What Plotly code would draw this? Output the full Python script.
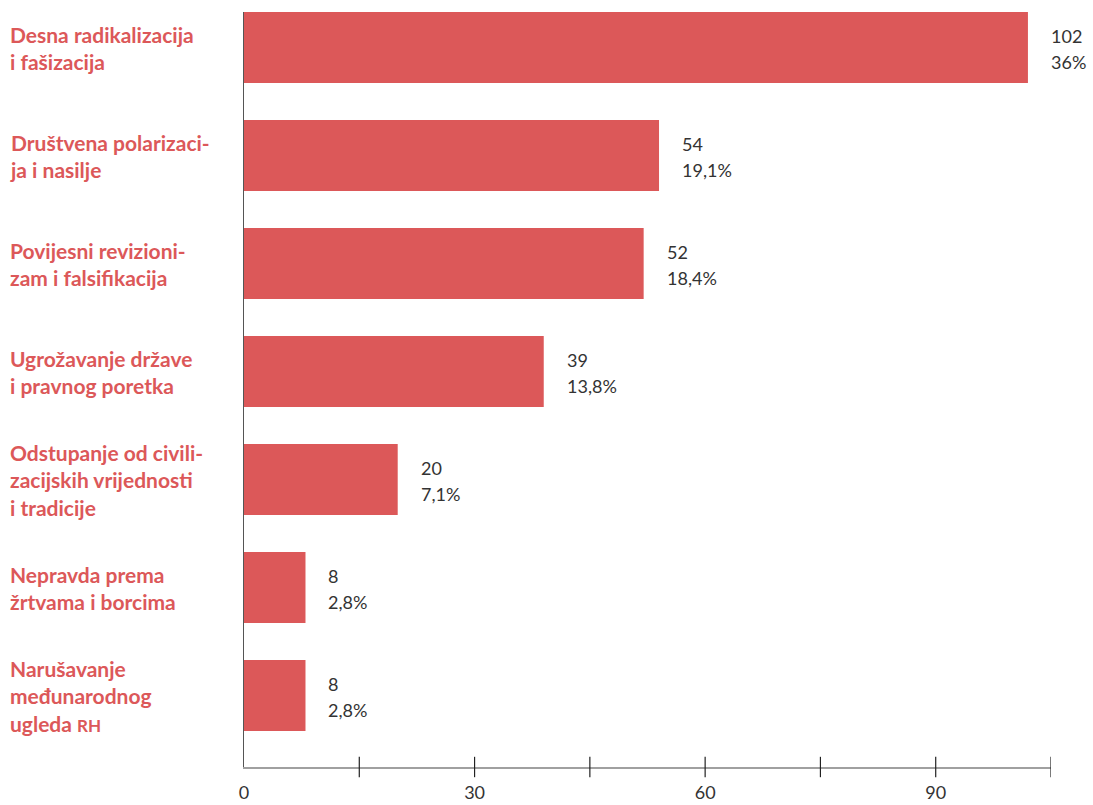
import plotly.graph_objects as go

categories = [
    "Desna radikalizacija<br>i fašizacija",
    "Društvena polarizaci-<br>ja i nasilje",
    "Povijesni revizioni-<br>zam i falsifikacija",
    "Ugrožavanje države<br>i pravnog poretka",
    "Odstupanje od civili-<br>zacijskih vrijednosti<br>i tradicije",
    "Nepravda prema<br>žrtvama i borcima",
    "Narušavanje<br>međunarodnog<br>ugleda <span style='font-size:17px'>RH</span>",
]
counts = [102, 54, 52, 39, 20, 8, 8]
shares = ["36%", "19,1%", "18,4%", "13,8%", "7,1%", "2,8%", "2,8%"]
tick_marks = [15, 30, 45, 60, 75, 90, 105]
tick_labels = [0, 30, 60, 90]

BAR = "#dc5859"
LABEL_RED = "#dc5859"
TEXT = "#333333"

pos = list(range(len(categories)))

fig = go.Figure(
    go.Bar(
        x=counts,
        y=pos,
        orientation="h",
        marker=dict(color=BAR, line=dict(width=0)),
        width=0.657,
        hoverinfo="skip",
    )
)

# category labels on the left
for i, c in enumerate(categories):
    fig.add_annotation(
        x=-0.2925, xref="paper", y=i, yref="y",
        text=c, showarrow=False, xanchor="left", yanchor="middle", align="left",
        font=dict(family="Lato", size=21, color=LABEL_RED, weight="bold"),
    )

# value and share labels to the right of each bar
for i, (v, s) in enumerate(zip(counts, shares)):
    fig.add_annotation(
        x=v, xref="x", y=i, yref="y",
        text=str(v), showarrow=False, xanchor="left", yanchor="middle",
        xshift=21, yshift=12,
        font=dict(family="Lato", size=18, color=TEXT),
    )
    fig.add_annotation(
        x=v, xref="x", y=i, yref="y",
        text=s, showarrow=False, xanchor="left", yanchor="middle",
        xshift=21, yshift=-14,
        font=dict(family="Lato", size=18, color=TEXT),
    )

# tick marks crossing the bottom axis line
for t in tick_marks:
    fig.add_shape(
        type="line", x0=t, x1=t, xref="x", y0=-0.0135, y1=0.0135, yref="paper",
        line=dict(color="#222222", width=1.2),
    )

fig.update_layout(
    width=1093, height=805,
    margin=dict(l=244, r=42, t=12, b=38),
    paper_bgcolor="white", plot_bgcolor="white",
    showlegend=False,
    xaxis=dict(
        range=[0, 105], tickvals=tick_labels, ticktext=[str(t) for t in tick_labels],
        showgrid=False, zeroline=False, showline=True, linecolor="#a0a0a0", linewidth=2,
        ticks="", ticklabelstandoff=8, automargin=False,
        tickfont=dict(family="Lato", size=18, color=TEXT),
    ),
    yaxis=dict(
        range=[6.662, -0.3287], showticklabels=False, showgrid=False, zeroline=False,
        showline=True, linecolor="#555555", linewidth=1, ticks="", automargin=False,
    ),
)

fig.write_html("out.html")
